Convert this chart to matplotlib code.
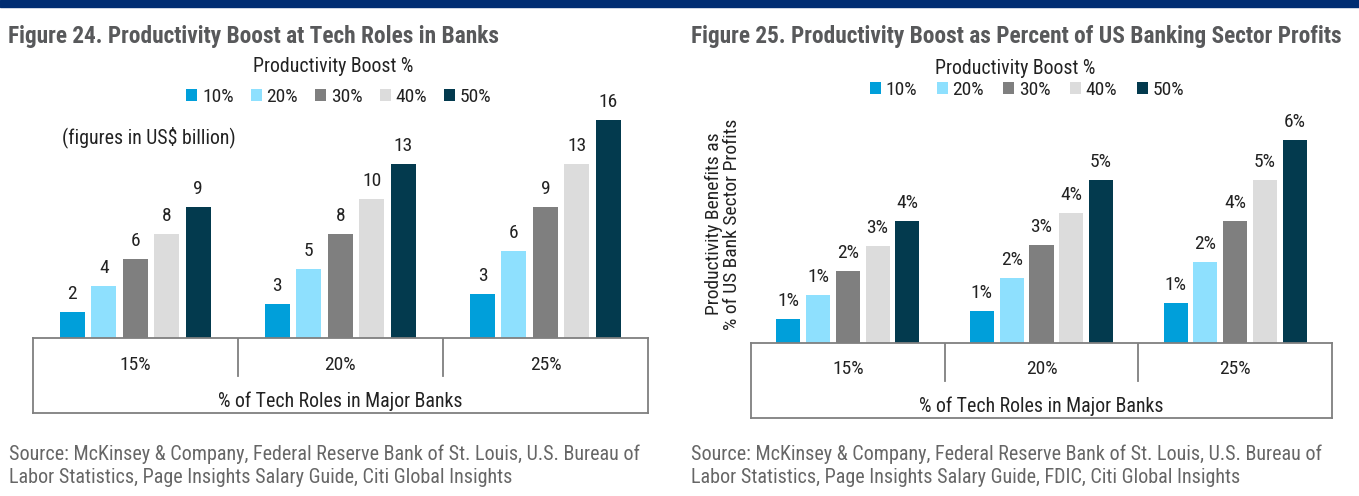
import matplotlib
matplotlib.use("Agg")
import matplotlib.pyplot as plt
from matplotlib import font_manager
from matplotlib.patches import Rectangle
import numpy as np

# pick a narrow face if the box has one, otherwise Liberation Sans
_names = sorted({f.name for f in font_manager.fontManager.ttflist})
_narrow = [n for n in ["Liberation Sans Narrow", "Arial Narrow", "Roboto Condensed",
                       "Open Sans Condensed", "Noto Sans Condensed"] if n in _names]
_narrow += [n for n in _names if ("Narrow" in n or "Condensed" in n) and n not in _narrow]
FONT = _narrow[0] if _narrow else "Liberation Sans"
plt.rcParams['font.family'] = [FONT, 'DejaVu Sans']

# data
tech_share = ["15%", "20%", "25%"]
boost_levels = ["10%", "20%", "30%", "40%", "50%"]
boost_colors = ["#009FDA", "#8EE0FE", "#7F7F7F", "#DCDCDC", "#033A4E"]

# Figure 24: US$ billion, one list per boost level (15%, 20%, 25% tech roles)
usd_10 = [1.9, 2.5, 3.2]
usd_20 = [3.8, 5.1, 6.4]
usd_30 = [5.8, 7.7, 9.7]
usd_40 = [7.7, 10.3, 12.9]
usd_50 = [9.7, 12.9, 16.1]
usd_labels_10 = ["2", "3", "3"]
usd_labels_20 = ["4", "5", "6"]
usd_labels_30 = ["6", "8", "9"]
usd_labels_40 = ["8", "10", "13"]
usd_labels_50 = ["9", "13", "16"]

# Figure 25: % of US banking sector profits
pct_10 = [0.72, 0.96, 1.20]
pct_20 = [1.43, 1.93, 2.40]
pct_30 = [2.13, 2.90, 3.59]
pct_40 = [2.87, 3.84, 4.80]
pct_50 = [3.60, 4.81, 5.99]

title_24 = "Figure 24. Productivity Boost at Tech Roles in Banks"
title_25 = "Figure 25. Productivity Boost as Percent of US Banking Sector Profits"
source_24 = ("Source: McKinsey & Company, Federal Reserve Bank of St. Louis, U.S. Bureau of\n"
             "Labor Statistics, Page Insights Salary Guide, Citi Global Insights")
source_25 = ("Source: McKinsey & Company, Federal Reserve Bank of St. Louis, U.S. Bureau of\n"
             "Labor Statistics, Page Insights Salary Guide, FDIC, Citi Global Insights")
axis_title = "% of Tech Roles in Major Banks"
ylabel_25 = "Productivity Benefits as\n% of US Bank Sector Profits"

W, H = 1359, 496
TEXT = "#222222"
TITLE = "#58595B"
SOURCE = "#666666"
GRID = "#7F7F7F"

fig = plt.figure(figsize=(W / 100, H / 100), dpi=100)
renderer = fig.canvas.get_renderer()


def text_width(s, size, **kw):
    t = fig.text(0, 0, s, fontsize=size, **kw)
    w = t.get_window_extent(renderer).width
    t.remove()
    return w


# size the text so that widths follow the reference
NUM = 14
BODY = min(15.5, 1.03 * 14 * 239 / text_width(axis_title, 14))
TSIZE = min(17, 16 * 493 / text_width(title_24, 16, fontweight="bold"))
SSIZE = min(15.5, 14 * 637 / text_width(source_24.split("\n")[0], 14))
YSIZE = min(16, 14 * 212 / text_width(ylabel_25.split("\n")[1], 14))
FS_PX = NUM * 100 / 72


def box(l, t, r, b):
    # pixel box -> figure fraction rect
    return [l / W, 1 - b / H, (r - l) / W, (b - t) / H]


def draw_bars(ax, series, labels, pitch, width):
    x = np.arange(len(tech_share))
    bars = []
    for i, (vals, labs) in enumerate(zip(series, labels)):
        b = ax.bar(x + (i - 2) * pitch, vals, width, color=boost_colors[i],
                   linewidth=0, label=boost_levels[i])
        bars.append(b)
        for rect, lab in zip(b, labs):
            ax.annotate(lab, (rect.get_x() + rect.get_width() / 2, rect.get_height()),
                        xytext=(0, 6.5), textcoords="offset points",
                        ha="center", va="bottom", fontsize=NUM, color=TEXT)
    ax.set_xlim(-0.5, 2.5)
    ax.axis("off")
    return bars


def draw_table(ax, cat_y, axis_y, div_bottom):
    ax.set_xlim(-0.5, 2.5)
    ax.set_ylim(0, 1)
    ax.set_xticks([])
    ax.set_yticks([])
    for s in ax.spines.values():
        s.set_color(GRID)
        s.set_linewidth(1.3)
    for xv in [0.5, 1.5]:
        ax.plot([xv, xv], [div_bottom, 1], color=GRID, lw=1.3)
    for i, c in enumerate(tech_share):
        ax.text(i, cat_y, c, ha="center", va="center", fontsize=NUM, color=TEXT)
    ax.text(1, axis_y, axis_title, ha="center", va="center", fontsize=BODY, color=TEXT)


def add_legend(handles, cx, cy, pitch_px):
    w10 = text_width("10%", NUM)
    fig.legend(handles=handles, labels=boost_levels, ncol=5, frameon=False,
               loc="center", bbox_to_anchor=(cx / W, 1 - cy / H), fontsize=NUM,
               handlelength=11 / FS_PX, handleheight=11 / FS_PX,
               handletextpad=4.7 / FS_PX,
               columnspacing=(pitch_px - 11 - 4.7 - w10) / FS_PX,
               borderpad=0, labelcolor=TEXT)


fig.patches.append(Rectangle((0, 1 - 7 / H), 1, 7 / H, transform=fig.transFigure,
                             color="#002D72", zorder=0))

# ---- Figure 24 ----
ax1 = fig.add_axes(box(32.7, 337.7 - 18 * 13.5, 648, 337.7))
ax1.set_ylim(0, 18)
bars1 = draw_bars(ax1, [usd_10, usd_20, usd_30, usd_40, usd_50],
                  [usd_labels_10, usd_labels_20, usd_labels_30, usd_labels_40, usd_labels_50],
                  0.1534, 0.122)
tab1 = fig.add_axes(box(32.7, 337.7, 648, 412.7))
draw_table(tab1, 0.636, 0.147, 0.49)

fig.text(8 / W, 1 - 36 / H, title_24, fontsize=TSIZE, fontweight="bold", color=TITLE,
         ha="left", va="center")
fig.text(333 / W, 1 - 67 / H, "Productivity Boost %", fontsize=BODY, color=TEXT,
         ha="center", va="center")
add_legend([b[0] for b in bars1], 339, 97, 64.5)
fig.text(62 / W, 1 - 137 / H, "(figures in US$ billion)", fontsize=BODY, color=TEXT,
         ha="left", va="center")
fig.text(9 / W, 1 - 466 / H, source_24, fontsize=SSIZE, color=SOURCE,
         ha="left", va="center", linespacing=1.25)

# ---- Figure 25 ----
ax2 = fig.add_axes(box(751, 343.4 - 7 * 34, 1332, 343.4))
ax2.set_ylim(0, 7)
pct_series = [pct_10, pct_20, pct_30, pct_40, pct_50]
pct_labels = [[f"{v:.0f}%" for v in s] for s in pct_series]
bars2 = draw_bars(ax2, pct_series, pct_labels, 0.1538, 0.124)
tab2 = fig.add_axes(box(751, 343.4, 1332, 418.3))
draw_table(tab2, 0.653, 0.164, 0.50)

fig.text(691 / W, 1 - 36 / H, title_25, fontsize=TSIZE, fontweight="bold", color=TITLE,
         ha="left", va="center")
fig.text(1015 / W, 1 - 68 / H, "Productivity Boost %", fontsize=BODY, color=TEXT,
         ha="center", va="center")
add_legend([b[0] for b in bars2], 1027, 90, 66.6)
fig.text(723 / W, 1 - 224 / H, ylabel_25,
         fontsize=YSIZE, color=TEXT, rotation=90, ha="center", va="center",
         multialignment="center", linespacing=1.05)
fig.text(691 / W, 1 - 466 / H, source_25, fontsize=SSIZE, color=SOURCE,
         ha="left", va="center", linespacing=1.25)

fig.savefig("out.png", dpi=100)
